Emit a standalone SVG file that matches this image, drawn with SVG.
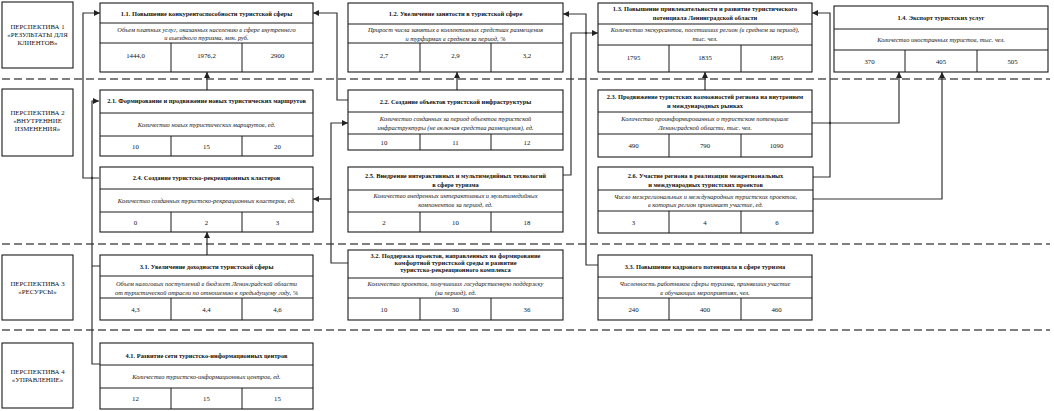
<svg xmlns="http://www.w3.org/2000/svg" width="1054" height="411" viewBox="0 0 1054 411">
<style>
text{font-family:"Liberation Serif","Times New Roman",serif;fill:#111;text-anchor:middle}
.t{font-size:6.4px;font-weight:bold}
.d{font-size:6.4px;font-style:italic}
.v{font-size:6.8px}
.p{font-size:6.8px}
.b{fill:#fff;stroke:#1a1a1a;stroke-width:1.1}
.l{stroke:#1a1a1a;stroke-width:1}
.c{fill:none;stroke:#333;stroke-width:1.2}
.dash{stroke:#555;stroke-width:1.5;stroke-dasharray:8 4}
.dot{fill:#333}
</style>
<defs>
<marker id="a" markerUnits="userSpaceOnUse" markerWidth="6" markerHeight="6" refX="6" refY="3" orient="auto">
<path d="M0,0 L6,3 L0,6 z" fill="#222"/>
</marker>
</defs>
<g id="dividers">
<line class="dash" x1="2" y1="79" x2="1050" y2="79"/>
<line class="dash" x1="2" y1="244" x2="1050" y2="244"/>
<line class="dash" x1="2" y1="330" x2="1050" y2="330"/>
</g>
<g id="persp1"><rect class="b" x="2" y="2" width="71" height="66"/>
<text class="p" x="37.5" y="29">ПЕРСПЕКТИВА 1</text><text class="p" x="37.5" y="37">«РЕЗУЛЬТАТЫ ДЛЯ</text><text class="p" x="37.5" y="45">КЛИЕНТОВ»</text></g>
<g id="persp2"><rect class="b" x="2" y="89" width="71" height="67"/>
<text class="p" x="37.5" y="115">ПЕРСПЕКТИВА 2</text><text class="p" x="37.5" y="123">«ВНУТРЕННИЕ</text><text class="p" x="37.5" y="131">ИЗМЕНЕНИЯ»</text></g>
<g id="persp3"><rect class="b" x="2" y="255" width="71" height="65"/>
<text class="p" x="37.5" y="286">ПЕРСПЕКТИВА 3</text><text class="p" x="37.5" y="294">«РЕСУРСЫ»</text></g>
<g id="persp4"><rect class="b" x="2" y="343" width="71" height="65"/>
<text class="p" x="37.5" y="374">ПЕРСПЕКТИВА 4</text><text class="p" x="37.5" y="382">«УПРАВЛЕНИЕ»</text></g>

<g id="connectors">
<path class="c" d="M99,178 H83 V13 H100" marker-end="url(#a)"/>
<path class="c" d="M100,266 H92 V101 H99" marker-end="url(#a)"/>
<path class="c" d="M100,364 H92 V266"/>
<circle class="dot" cx="92" cy="178" r="1.2"/>
<path class="c" d="M207,90 V72" marker-end="url(#a)"/>
<path class="c" d="M207,255 V232" marker-end="url(#a)"/>
<path class="c" d="M348,100 H337 V13 H313" marker-end="url(#a)"/>
<path class="c" d="M348,263 H331 V123 H348" marker-end="url(#a)"/>
<path class="c" d="M331,199 H313" marker-end="url(#a)"/>
<path class="c" d="M457,90 V72" marker-end="url(#a)"/>
<path class="c" d="M598,265 H586 V14 H563" marker-end="url(#a)"/>
<path class="c" d="M563,175 H571 V33 H598" marker-end="url(#a)"/>
<circle class="dot" cx="586" cy="33" r="1.2"/>
<path class="c" d="M705,90 V72" marker-end="url(#a)"/>
<path class="c" d="M813,177 H830 V13 H812" marker-end="url(#a)"/>
<path class="c" d="M812,123 H899 V72" marker-end="url(#a)"/>
<circle class="dot" cx="830" cy="123" r="1.2"/>
<path class="c" d="M813,199 H942 V72" marker-end="url(#a)"/>
</g>

<g id="n11"><rect class="b" x="100" y="3" width="213" height="69"/>
<line class="l" x1="100" y1="23" x2="313" y2="23"/><line class="l" x1="100" y1="43" x2="313" y2="43"/>
<line class="l" x1="171" y1="43" x2="171" y2="72"/><line class="l" x1="242" y1="43" x2="242" y2="72"/>
<text class="t" x="206.5" y="15.5">1.1. Повышение конкурентоспособности туристской сферы</text>
<text class="d" x="206.5" y="31.5">Объем платных услуг, оказанных населению в сфере внутреннего</text>
<text class="d" x="206.5" y="40">и выездного туризма, млн. руб.</text>
<text class="v" x="135.5" y="58">1444,0</text><text class="v" x="206.5" y="58">1976,2</text><text class="v" x="277.5" y="58">2900</text></g>

<g id="n12"><rect class="b" x="348" y="3" width="215" height="69"/>
<line class="l" x1="348" y1="24" x2="563" y2="24"/><line class="l" x1="348" y1="43" x2="563" y2="43"/>
<line class="l" x1="420" y1="43" x2="420" y2="72"/><line class="l" x1="491" y1="43" x2="491" y2="72"/>
<text class="t" x="455.5" y="16">1.2. Увеличение занятости в туристской сфере</text>
<text class="d" x="455.5" y="31.5">Прирост числа занятых в коллективных средствах размещения</text>
<text class="d" x="455.5" y="40.5">и турфирмах в среднем за период, %</text>
<text class="v" x="384" y="58">2,7</text><text class="v" x="455.5" y="58">2,9</text><text class="v" x="527" y="58">3,2</text></g>

<g id="n13"><rect class="b" x="598" y="3" width="214" height="69"/>
<line class="l" x1="598" y1="24" x2="812" y2="24"/><line class="l" x1="598" y1="45" x2="812" y2="45"/>
<line class="l" x1="669" y1="45" x2="669" y2="72"/><line class="l" x1="741" y1="45" x2="741" y2="72"/>
<text class="t" x="705" y="10.5">1.3. Повышение привлекательности и развитие туристического</text>
<text class="t" x="705" y="19.5">потенциала Ленинградской области</text>
<text class="d" x="705" y="31.5">Количество экскурсантов, посетивших регион (в среднем за период),</text>
<text class="d" x="705" y="41">тыс. чел.</text>
<text class="v" x="633.5" y="60">1795</text><text class="v" x="705" y="60">1835</text><text class="v" x="776.5" y="60">1895</text></g>

<g id="n14"><rect class="b" x="834" y="6" width="214" height="66"/>
<line class="l" x1="834" y1="29" x2="1048" y2="29"/><line class="l" x1="834" y1="50" x2="1048" y2="50"/>
<line class="l" x1="905" y1="50" x2="905" y2="72"/><line class="l" x1="977" y1="50" x2="977" y2="72"/>
<text class="t" x="941" y="20">1.4. Экспорт туристских услуг</text>
<text class="d" x="941" y="42">Количество иностранных туристов, тыс. чел.</text>
<text class="v" x="869.5" y="63.5">370</text><text class="v" x="941" y="63.5">405</text><text class="v" x="1012.5" y="63.5">505</text></g>

<g id="n21"><rect class="b" x="100" y="90" width="213" height="66"/>
<line class="l" x1="100" y1="113" x2="313" y2="113"/><line class="l" x1="100" y1="136" x2="313" y2="136"/>
<line class="l" x1="171" y1="136" x2="171" y2="156"/><line class="l" x1="242" y1="136" x2="242" y2="156"/>
<text class="t" x="206.5" y="103">2.1. Формирование и продвижение новых туристических маршрутов</text>
<text class="d" x="206.5" y="126.5">Количество новых туристических маршрутов, ед.</text>
<text class="v" x="135.5" y="148.5">10</text><text class="v" x="206.5" y="148.5">15</text><text class="v" x="277.5" y="148.5">20</text></g>

<g id="n22"><rect class="b" x="348" y="90" width="215" height="60"/>
<line class="l" x1="348" y1="112" x2="563" y2="112"/><line class="l" x1="348" y1="134" x2="563" y2="134"/>
<line class="l" x1="420" y1="134" x2="420" y2="150"/><line class="l" x1="491" y1="134" x2="491" y2="150"/>
<text class="t" x="455.5" y="103.5">2.2. Создание объектов туристской инфраструктуры</text>
<text class="d" x="455.5" y="121">Количество созданных за период объектов туристской</text>
<text class="d" x="455.5" y="130">инфраструктуры (не включая средства размещения), ед.</text>
<text class="v" x="384" y="144.5">10</text><text class="v" x="455.5" y="144.5">11</text><text class="v" x="527" y="144.5">12</text></g>

<g id="n23"><rect class="b" x="598" y="90" width="214" height="67"/>
<line class="l" x1="598" y1="112" x2="812" y2="112"/><line class="l" x1="598" y1="134" x2="812" y2="134"/>
<line class="l" x1="669" y1="134" x2="669" y2="157"/><line class="l" x1="741" y1="134" x2="741" y2="157"/>
<text class="t" x="705" y="98.5">2.3. Продвижение туристских возможностей региона на внутреннем</text>
<text class="t" x="705" y="108">и международных рынках</text>
<text class="d" x="705" y="121">Количество проинформированных о туристском потенциале</text>
<text class="d" x="705" y="130">Ленинградской области, тыс. чел.</text>
<text class="v" x="633.5" y="148">490</text><text class="v" x="705" y="148">790</text><text class="v" x="776.5" y="148">1090</text></g>

<g id="n24"><rect class="b" x="100" y="167" width="213" height="65"/>
<line class="l" x1="100" y1="189" x2="313" y2="189"/><line class="l" x1="100" y1="212" x2="313" y2="212"/>
<line class="l" x1="171" y1="212" x2="171" y2="232"/><line class="l" x1="242" y1="212" x2="242" y2="232"/>
<text class="t" x="206.5" y="180">2.4. Создание туристско-рекреационных кластеров</text>
<text class="d" x="206.5" y="202.5">Количество созданных туристско-рекреационных кластеров, ед.</text>
<text class="v" x="135.5" y="224.5">0</text><text class="v" x="206.5" y="224.5">2</text><text class="v" x="277.5" y="224.5">3</text></g>

<g id="n25"><rect class="b" x="348" y="167" width="215" height="65"/>
<line class="l" x1="348" y1="190" x2="563" y2="190"/><line class="l" x1="348" y1="212" x2="563" y2="212"/>
<line class="l" x1="420" y1="212" x2="420" y2="232"/><line class="l" x1="491" y1="212" x2="491" y2="232"/>
<text class="t" x="455.5" y="177.5">2.5. Внедрение интерактивных и мультимедийных технологий</text>
<text class="t" x="455.5" y="186.5">в сфере туризма</text>
<text class="d" x="455.5" y="198">Количество внедренных интерактивных и мультимедийных</text>
<text class="d" x="455.5" y="207">компонентов за период, ед.</text>
<text class="v" x="384" y="224.5">2</text><text class="v" x="455.5" y="224.5">10</text><text class="v" x="527" y="224.5">18</text></g>

<g id="n26"><rect class="b" x="598" y="167" width="215" height="66"/>
<line class="l" x1="598" y1="190" x2="813" y2="190"/><line class="l" x1="598" y1="211" x2="813" y2="211"/>
<line class="l" x1="669" y1="211" x2="669" y2="233"/><line class="l" x1="741" y1="211" x2="741" y2="233"/>
<text class="t" x="705.5" y="177.5">2.6. Участие региона в реализации межрегиональных</text>
<text class="t" x="705.5" y="186.5">и международных туристских проектов</text>
<text class="d" x="705.5" y="198.5">Число межрегиональных и международных туристских проектов,</text>
<text class="d" x="705.5" y="207">в которых регион принимает участие, ед.</text>
<text class="v" x="633.5" y="224.5">3</text><text class="v" x="705" y="224.5">4</text><text class="v" x="777" y="224.5">6</text></g>

<g id="n31"><rect class="b" x="100" y="255" width="213" height="65"/>
<line class="l" x1="100" y1="276" x2="313" y2="276"/><line class="l" x1="100" y1="298" x2="313" y2="298"/>
<line class="l" x1="171" y1="298" x2="171" y2="320"/><line class="l" x1="242" y1="298" x2="242" y2="320"/>
<text class="t" x="206.5" y="269">3.1. Увеличение доходности туристской сферы</text>
<text class="d" x="206.5" y="286">Объем налоговых поступлений в бюджет Ленинградской области</text>
<text class="d" x="206.5" y="295">от туристической отрасли по отношению к предыдущему году, %</text>
<text class="v" x="135.5" y="312">4,3</text><text class="v" x="206.5" y="312">4,4</text><text class="v" x="277.5" y="312">4,6</text></g>

<g id="n32"><rect class="b" x="348" y="250" width="215" height="70"/>
<line class="l" x1="348" y1="278" x2="563" y2="278"/><line class="l" x1="348" y1="298" x2="563" y2="298"/>
<line class="l" x1="420" y1="298" x2="420" y2="320"/><line class="l" x1="491" y1="298" x2="491" y2="320"/>
<text class="t" x="455.5" y="257.5">3.2. Поддержка проектов, направленных на формирование</text>
<text class="t" x="455.5" y="264.5">комфортной туристской среды и развитие</text>
<text class="t" x="455.5" y="271.5">туристско-рекреационного комплекса</text>
<text class="d" x="455.5" y="286">Количество проектов, получивших государственную поддержку</text>
<text class="d" x="455.5" y="295">(за период), ед.</text>
<text class="v" x="384" y="312">10</text><text class="v" x="455.5" y="312">30</text><text class="v" x="527" y="312">36</text></g>

<g id="n33"><rect class="b" x="598" y="255" width="214" height="65"/>
<line class="l" x1="598" y1="277" x2="812" y2="277"/><line class="l" x1="598" y1="298" x2="812" y2="298"/>
<line class="l" x1="669" y1="298" x2="669" y2="320"/><line class="l" x1="741" y1="298" x2="741" y2="320"/>
<text class="t" x="705" y="269">3.3. Повышение кадрового потенциала в сфере туризма</text>
<text class="d" x="705" y="286">Численность работников сферы туризма, принявших участие</text>
<text class="d" x="705" y="295">в обучающих мероприятиях, чел.</text>
<text class="v" x="633.5" y="312">240</text><text class="v" x="705" y="312">400</text><text class="v" x="776.5" y="312">460</text></g>

<g id="n41"><rect class="b" x="100" y="343" width="213" height="66"/>
<line class="l" x1="100" y1="365" x2="313" y2="365"/><line class="l" x1="100" y1="388" x2="313" y2="388"/>
<line class="l" x1="171" y1="388" x2="171" y2="409"/><line class="l" x1="242" y1="388" x2="242" y2="409"/>
<text class="t" x="206.5" y="357.5">4.1. Развитие сети туристско-информационных центров</text>
<text class="d" x="206.5" y="379">Количество туристско-информационных центров, ед.</text>
<text class="v" x="135.5" y="401">12</text><text class="v" x="206.5" y="401">15</text><text class="v" x="277.5" y="401">15</text></g>
</svg>
